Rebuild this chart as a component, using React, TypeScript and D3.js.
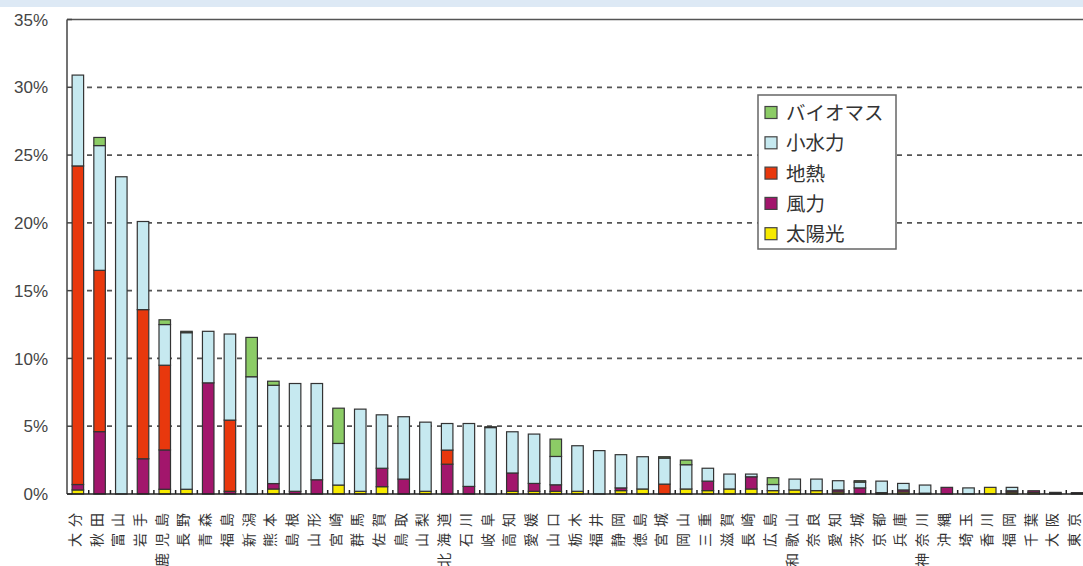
import React from 'react';
import * as d3 from 'd3';

const prefectures = [
  '大分', '秋田', '富山', '岩手', '鹿児島', '長野', '青森', '福島', '新潟', '熊本',
  '島根', '山形', '宮崎', '群馬', '佐賀', '鳥取', '山梨', '北海道', '石川', '岐阜',
  '高知', '愛媛', '山口', '栃木', '福井', '静岡', '徳島', '宮城', '岡山', '三重',
  '滋賀', '長崎', '広島', '和歌山', '奈良', '愛知', '茨城', '京都', '兵庫', '神奈川',
  '沖縄', '埼玉', '香川', '福岡', '千葉', '大阪', '東京',
];

// shares in %, bottom to top of each bar
const solar = [
  0.3, 0, 0, 0, 0.35, 0.35, 0, 0, 0, 0.37,
  0, 0, 0.66, 0.2, 0.54, 0, 0.2, 0, 0, 0,
  0.2, 0.2, 0.2, 0.2, 0, 0.25, 0.37, 0, 0.37, 0.25,
  0.37, 0.37, 0.25, 0.3, 0.25, 0.15, 0, 0.1, 0.15, 0.06,
  0, 0, 0.49, 0.14, 0.12, 0.06, 0.05,
];
const wind = [
  0.4, 4.6, 0, 2.6, 2.9, 0, 8.2, 0.2, 0, 0.4,
  0.2, 1.05, 0, 0, 1.36, 1.1, 0, 2.2, 0.56, 0,
  1.35, 0.58, 0.48, 0, 0, 0.2, 0, 0, 0, 0.7,
  0, 0.9, 0, 0, 0, 0.15, 0.45, 0, 0.15, 0,
  0.49, 0, 0, 0.1, 0.12, 0, 0.05,
];
const geothermal = [
  23.5, 11.9, 0, 11.0, 6.25, 0, 0, 5.25, 0, 0,
  0, 0, 0, 0, 0, 0, 0, 1.04, 0, 0,
  0, 0, 0, 0, 0, 0, 0, 0.73, 0, 0,
  0, 0, 0, 0, 0, 0, 0, 0, 0, 0,
  0, 0, 0, 0, 0, 0, 0,
];
const smallHydro = [
  6.7, 9.2, 23.4, 6.5, 3.0, 11.55, 3.8, 6.35, 8.65, 7.25,
  7.95, 7.1, 3.07, 6.06, 3.94, 4.6, 5.1, 1.96, 4.64, 4.9,
  3.04, 3.64, 2.09, 3.36, 3.2, 2.45, 2.38, 1.92, 1.79, 0.95,
  1.1, 0.2, 0.45, 0.8, 0.85, 0.68, 0.43, 0.85, 0.48, 0.6,
  0, 0.45, 0, 0.25, 0, 0.06, 0,
];
const biomass = [
  0, 0.6, 0, 0, 0.35, 0.1, 0, 0, 2.9, 0.3,
  0, 0, 2.6, 0, 0, 0, 0, 0, 0, 0.06,
  0, 0, 1.28, 0, 0, 0, 0, 0.1, 0.34, 0,
  0, 0, 0.5, 0, 0, 0, 0.1, 0, 0, 0,
  0, 0, 0, 0, 0, 0, 0,
];

const seriesKeys = ['太陽光', '風力', '地熱', '小水力', 'バイオマス'];
const seriesValues = [solar, wind, geothermal, smallHydro, biomass];
const seriesColors = ['#f7ea00', '#a2166c', '#e8380d', '#c6e9f0', '#8ccc66'];
const legendOrder = ['バイオマス', '小水力', '地熱', '風力', '太陽光'];
const yTicks = [0, 5, 10, 15, 20, 25, 30, 35];

const W = 1083;
const H = 566;
const left = 67;
const top = 19.5;
const bottom = 494;

const App: React.FC = () => {
  const rows = prefectures.map((p, i) => {
    const r: Record<string, any> = { name: p };
    seriesKeys.forEach((k, j) => (r[k] = seriesValues[j][i]));
    return r;
  });
  const stacked = d3.stack<any>().keys(seriesKeys)(rows);

  const x = d3.scaleBand<string>().domain(prefectures).range([left, 1088]).paddingInner(0.47).paddingOuter(0.235);
  const y = d3.scaleLinear().domain([0, 35]).range([bottom, top]);
  const color = d3.scaleOrdinal<string, string>().domain(seriesKeys).range(seriesColors);
  const step = x.step();

  return (
    <svg width={W} height={H} style={{ position: 'absolute', left: 0, top: 0, background: '#fff' }}>
      <rect x={0} y={0} width={W} height={7} fill="#dde9f5" />

      {/* grid */}
      {yTicks.filter((t) => t > 0 && t < 35).map((t) => (
        <line key={t} x1={left + 20} x2={W} y1={y(t)} y2={y(t)} stroke="#555" strokeWidth={1.8} strokeDasharray="5 5" />
      ))}

      {/* frame */}
      <line x1={left} x2={W + 10} y1={top} y2={top} stroke="#555" strokeWidth={1.5} />
      <line x1={left} x2={left} y1={top} y2={bottom} stroke="#444" strokeWidth={1.5} />

      {yTicks.map((t) => (
        <g key={t}>
          <line x1={left} x2={left + 5} y1={y(t)} y2={y(t)} stroke="#444" strokeWidth={1.5} />
          <text x={48} y={y(t)} dy="0.36em" textAnchor="end" fontFamily="Liberation Sans, Arial, sans-serif" fontSize={17} fill="#444">
            {t}%
          </text>
        </g>
      ))}

      {/* bars */}
      {stacked.map((s) => (
        <g key={s.key} fill={color(s.key)}>
          {s.map((d, i) =>
            d[1] - d[0] > 0 ? (
              <rect
                key={i}
                x={x(prefectures[i])!}
                y={y(d[1])}
                width={x.bandwidth()}
                height={y(d[0]) - y(d[1])}
                stroke="#333"
                strokeWidth={1.2}
              />
            ) : null
          )}
        </g>
      ))}

      {/* x axis */}
      <line x1={left} x2={W} y1={bottom} y2={bottom} stroke="#222" strokeWidth={1.5} />
      {prefectures.slice(1).map((p) => (
        <line key={p} x1={x(p)! - step * 0.235} x2={x(p)! - step * 0.235} y1={bottom} y2={bottom - 4} stroke="#222" strokeWidth={1.5} />
      ))}
      {/* category labels: text turned 90° left, read from bottom to top */}
      {prefectures.map((p) => {
        const chars = Array.from(p);
        const cx = x(p)! + x.bandwidth() / 2 - 4;
        return (
          <g key={p}>
            {chars.map((c, j) => (
              <text
                key={j}
                transform={`translate(${cx},${520 + (chars.length - 1 - j) * 20}) rotate(-90)`}
                textAnchor="middle"
                dominantBaseline="central"
                fontFamily="Noto Sans CJK JP"
                fontSize={14}
                fill="#333"
              >
                {c}
              </text>
            ))}
          </g>
        );
      })}

      {/* legend */}
      <rect x={758} y={95} width={138} height={154} fill="#fff" stroke="#666" strokeWidth={1.5} />
      {legendOrder.map((k, i) => (
        <g key={k} transform={`translate(765,${113 + i * 30.3})`}>
          <rect x={0} y={-6.5} width={12} height={12} fill={color(k)} stroke="#444" strokeWidth={1.2} />
          <text x={21} y={0} dy="0.36em" fontFamily="Noto Sans CJK JP" fontSize={19.5} fill="#333">
            {k}
          </text>
        </g>
      ))}
    </svg>
  );
};

export default App;
